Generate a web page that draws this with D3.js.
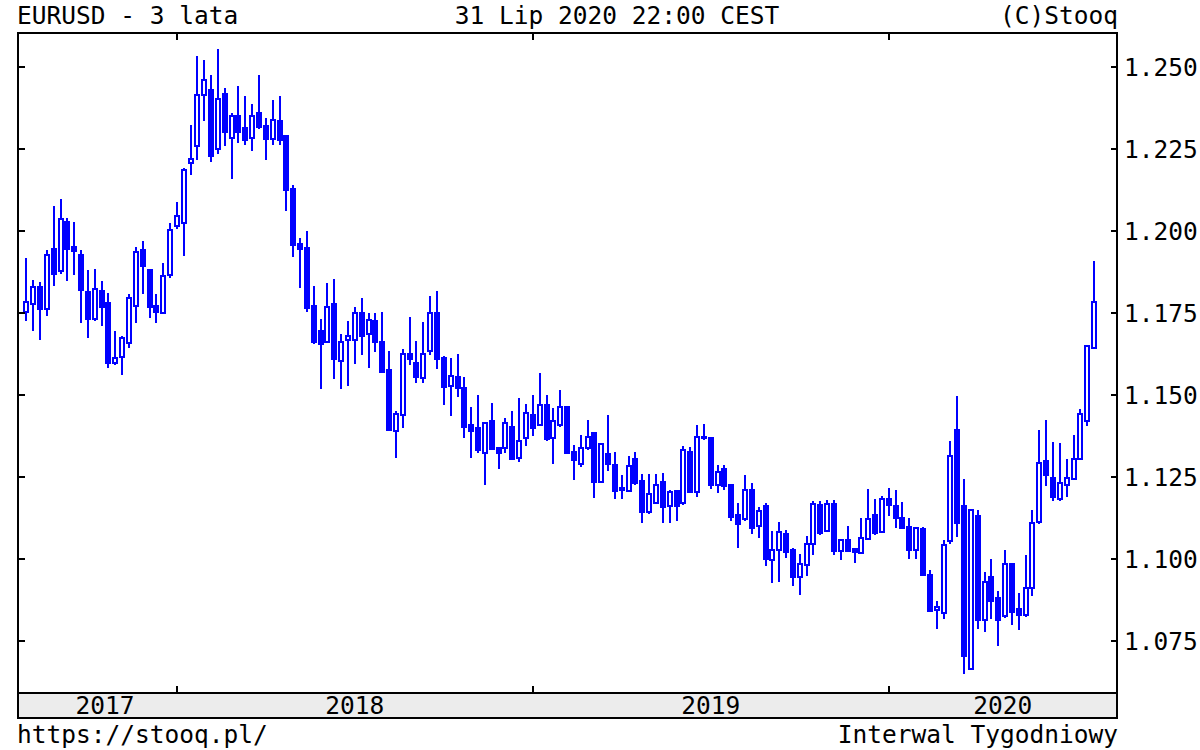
<!DOCTYPE html>
<html>
<head>
<meta charset="utf-8">
<script src="https://cdn.jsdelivr.net/npm/d3@7"></script>
<style>
  html, body { margin: 0; padding: 0; background: #fff; }
  svg { display: block; }
  text { font-family: "DejaVu Sans Mono", monospace; font-size: 24.5px; fill: #000; }
</style>
</head>
<body>
<svg id="chart" width="1200" height="750"></svg>
<script>
// ---- data (weekly EURUSD candles, week starting 2017-07-31) ----
const startWeek = "2017-07-31";
const opens = [
1.1753,1.1776,1.1829,1.1760,1.1945,1.1877,1.2028,1.1951,1.1925,1.1812,
1.1732,1.1817,1.1781,1.1596,1.1616,1.1657,1.1771,1.1942,1.1879,1.1771,
1.1750,1.1865,1.2015,1.2025,1.2206,1.2257,1.2415,1.2430,1.2249,1.2418,
1.2283,1.2351,1.2313,1.2283,1.2359,1.2318,1.2279,1.2333,1.2290,1.2127,
1.1960,1.1947,1.1769,1.1693,1.1662,1.1777,1.1602,1.1667,1.1667,1.1748,
1.1684,1.1725,1.1660,1.1574,1.1388,1.1438,1.1625,1.1598,1.1551,1.1632,
1.1749,1.1612,1.1525,1.1553,1.1520,1.1408,1.1398,1.1323,1.1421,1.1337,
1.1337,1.1403,1.1308,1.1368,1.1439,1.1409,1.1470,1.1367,1.1409,1.1462,
1.1324,1.1288,1.1337,1.1383,1.1235,1.1320,1.1286,1.1210,1.1205,1.1305,
1.1237,1.1142,1.1171,1.1234,1.1160,1.1206,1.1169,1.1326,1.1204,1.1372,
1.1367,1.1225,1.1274,1.1225,1.1134,1.1120,1.1208,1.1100,1.1160,1.0997,
1.1025,1.1075,1.1027,1.0943,1.0980,1.1044,1.1163,1.1085,1.1167,1.1023,
1.1056,1.1031,1.1017,1.1060,1.1134,1.1080,1.1181,1.1160,1.1124,1.1096,
1.1028,1.1090,1.0951,1.0843,1.0833,1.1053,1.1391,1.1161,1.0663,1.1129,
1.0813,1.0943,1.0879,1.0826,1.0985,1.0846,1.0827,1.0912,1.1111,1.1299,
1.1245,1.1183,1.1224,1.1244,1.1303,1.1419,1.1642
];
const highs = [
1.1917,1.1850,1.1843,1.1942,1.2074,1.2097,1.2038,1.2028,1.1942,1.1881,
1.1884,1.1846,1.1809,1.1693,1.1678,1.1807,1.1951,1.1969,1.1884,1.1807,
1.1901,1.2025,1.2089,1.2190,1.2323,1.2534,1.2519,1.2476,1.2554,1.2435,
1.2360,1.2442,1.2410,1.2387,1.2476,1.2343,1.2397,1.2410,1.2293,1.2140,
1.1977,1.1998,1.1830,1.1731,1.1840,1.1852,1.1684,1.1724,1.1768,1.1794,
1.1748,1.1748,1.1751,1.1632,1.1449,1.1639,1.1737,1.1665,1.1723,1.1802,
1.1815,1.1617,1.1612,1.1625,1.1553,1.1462,1.1500,1.1418,1.1474,1.1340,
1.1428,1.1449,1.1489,1.1471,1.1498,1.1565,1.1498,1.1459,1.1515,1.1464,
1.1347,1.1378,1.1424,1.1383,1.1349,1.1439,1.1325,1.1255,1.1312,1.1324,
1.1257,1.1259,1.1259,1.1261,1.1210,1.1210,1.1345,1.1341,1.1408,1.1411,
1.1370,1.1286,1.1286,1.1227,1.1170,1.1255,1.1232,1.1159,1.1170,1.1085,
1.1113,1.1087,1.1032,1.1013,1.1069,1.1177,1.1177,1.1180,1.1180,1.1059,
1.1101,1.1033,1.1124,1.1211,1.1182,1.1192,1.1215,1.1208,1.1172,1.1124,
1.1097,1.1098,1.0966,1.0870,1.1057,1.1358,1.1497,1.1242,1.1147,1.1147,
1.0958,1.0998,1.0900,1.1025,1.0988,1.0895,1.1012,1.1150,1.1391,1.1424,
1.1357,1.1352,1.1303,1.1378,1.1456,1.1653,1.1907
];
const lows = [
1.1726,1.1693,1.1668,1.1740,1.1832,1.1868,1.1846,1.1866,1.1719,1.1673,
1.1726,1.1709,1.1580,1.1591,1.1560,1.1642,1.1719,1.1807,1.1735,1.1719,
1.1750,1.1855,1.2005,1.1922,1.2171,1.2216,1.2333,1.2208,1.2235,1.2259,
1.2158,1.2267,1.2262,1.2242,1.2310,1.2216,1.2262,1.2262,1.2059,1.1920,
1.1825,1.1751,1.1656,1.1517,1.1660,1.1548,1.1517,1.1527,1.1594,1.1621,
1.1580,1.1629,1.1565,1.1388,1.1307,1.1397,1.1591,1.1537,1.1536,1.1622,
1.1577,1.1469,1.1436,1.1493,1.1368,1.1306,1.1322,1.1225,1.1332,1.1275,
1.1321,1.1303,1.1295,1.1345,1.1373,1.1404,1.1358,1.1289,1.1403,1.1322,
1.1240,1.1281,1.1332,1.1184,1.1230,1.1268,1.1183,1.1182,1.1203,1.1226,
1.1110,1.1137,1.1166,1.1110,1.1110,1.1114,1.1164,1.1200,1.1187,1.1362,
1.1212,1.1199,1.1210,1.1114,1.1034,1.1114,1.1074,1.1062,1.0977,1.0926,
1.0930,1.1002,1.0916,1.0890,1.0946,1.1012,1.1073,1.1085,1.1012,1.0995,
1.1023,1.0988,1.1014,1.1058,1.1073,1.1080,1.1131,1.1093,1.1093,1.0999,
1.0999,1.0951,1.0840,1.0785,1.0817,1.1046,1.1067,1.0649,1.0663,1.0785,
1.0777,1.0816,1.0735,1.0818,1.0797,1.0783,1.0822,1.0885,1.1106,1.1222,
1.1176,1.1176,1.1189,1.1242,1.1303,1.1406,1.1640
];
const closes = [
1.1784,1.1829,1.1760,1.1927,1.1868,1.2035,1.1945,1.1938,1.1819,1.1732,
1.1822,1.1767,1.1596,1.1611,1.1673,1.1796,1.1935,1.1891,1.1767,1.1753,
1.1863,1.2003,1.2044,1.2186,1.2219,1.2415,1.2460,1.2229,1.2401,1.2300,
1.2351,1.2300,1.2277,1.2349,1.2316,1.2279,1.2336,1.2277,1.2125,1.1955,
1.1944,1.1764,1.1660,1.1656,1.1767,1.1608,1.1661,1.1678,1.1748,1.1679,
1.1728,1.1660,1.1568,1.1393,1.1442,1.1625,1.1608,1.1555,1.1625,1.1749,
1.1609,1.1523,1.1557,1.1520,1.1403,1.1388,1.1332,1.1415,1.1334,1.1323,
1.1415,1.1303,1.1359,1.1443,1.1400,1.1470,1.1365,1.1421,1.1462,1.1322,
1.1301,1.1337,1.1370,1.1235,1.1349,1.1289,1.1205,1.1216,1.1283,1.1230,
1.1143,1.1198,1.1226,1.1157,1.1204,1.1160,1.1331,1.1204,1.1372,1.1367,
1.1225,1.1263,1.1223,1.1126,1.1106,1.1208,1.1095,1.1146,1.1000,1.1027,
1.1080,1.1019,1.0943,1.0983,1.1044,1.1167,1.1078,1.1167,1.1023,1.1056,
1.1023,1.1021,1.1063,1.1121,1.1078,1.1181,1.1164,1.1124,1.1093,1.1027,
1.1094,1.0951,1.0840,1.0854,1.1043,1.1312,1.1108,1.0702,1.1147,1.0813,
1.0930,1.0872,1.0813,1.0985,1.0838,1.0827,1.0912,1.1109,1.1293,1.1256,
1.1188,1.1232,1.1245,1.1303,1.1442,1.1647,1.1782
];
const yTicks = [1.075, 1.100, 1.125, 1.150, 1.175, 1.200, 1.225, 1.250];
const titleLeft = "EURUSD - 3 lata";
const titleCenter = "31 Lip 2020 22:00 CEST";
const titleRight = "(C)Stooq";
const footLeft = "https://stooq.pl/";
const footRight = "Interwal Tygodniowy";

// ---- build ----
const n = closes.length;
const start = new Date(startWeek + "T00:00:00Z");
const weeks = d3.range(n).map(i => {
  const monday = new Date(start.getTime() + i * 7 * 864e5);
  const friday = new Date(monday.getTime() + 4 * 864e5);
  return { i, friday, o: opens[i], h: highs[i], l: lows[i], c: closes[i] };
});

const svg = d3.select("#chart");
const L = 18, R = 1117, T = 33, B = 693, bandB = 718;
const blue = "#0000ff";

const x = d3.scaleLinear().domain([0, n - 1]).range([26.3, 1094.1]);
const y = d3.scaleLinear().domain([1.075, 1.25]).range([640.7, 66.7]);

const boundaries = [];
weeks.forEach((w, k) => {
  if (k > 0 && w.friday.getUTCFullYear() !== weeks[k - 1].friday.getUTCFullYear()) boundaries.push(k);
});

// band
svg.append("rect").attr("x", L).attr("y", B).attr("width", R - L).attr("height", bandB - B)
  .attr("fill", "#ececec").attr("stroke", "#000").attr("stroke-width", 2);

// candles
const g = svg.append("g").attr("shape-rendering", "crispEdges");
weeks.forEach(w => {
  const cx = Math.round(x(w.i));
  g.append("line").attr("x1", cx).attr("x2", cx)
    .attr("y1", Math.round(y(w.h))).attr("y2", Math.round(y(w.l)))
    .attr("stroke", blue).attr("stroke-width", 2);
  const top = Math.round(y(Math.max(w.o, w.c))), bot = Math.round(y(Math.min(w.o, w.c)));
  const up = w.c >= w.o;
  g.append("rect").attr("x", cx - 2).attr("y", top)
    .attr("width", 4).attr("height", Math.max(1, bot - top))
    .attr("fill", up ? "#fff" : blue).attr("stroke", blue).attr("stroke-width", 2);
});

// frame
svg.append("rect").attr("x", L).attr("y", T).attr("width", R - L).attr("height", B - T)
  .attr("fill", "none").attr("stroke", "#000").attr("stroke-width", 2);

// y ticks and labels
yTicks.forEach(v => {
  const yy = Math.round(y(v));
  svg.append("line").attr("x1", L).attr("x2", L + 7).attr("y1", yy).attr("y2", yy)
    .attr("stroke", "#000").attr("stroke-width", 2);
  svg.append("line").attr("x1", R - 6).attr("x2", R).attr("y1", yy).attr("y2", yy)
    .attr("stroke", "#000").attr("stroke-width", 2);
  svg.append("text").attr("x", 1124).attr("y", yy + 8.5).text(d3.format(".3f")(v));
});

// year boundary ticks
boundaries.forEach(k => {
  const bx = Math.round(x(k));
  svg.append("line").attr("x1", bx).attr("x2", bx).attr("y1", T).attr("y2", T + 7)
    .attr("stroke", "#000").attr("stroke-width", 2);
  svg.append("line").attr("x1", bx).attr("x2", bx).attr("y1", B - 7).attr("y2", B)
    .attr("stroke", "#000").attr("stroke-width", 2);
});

// year labels
const segs = [1].concat(boundaries);
const segEnds = boundaries.map(k => x(k)).concat([R]);
segs.forEach((k, j) => {
  const yr = weeks[k].friday.getUTCFullYear();
  const cx = (x(k) + segEnds[j]) / 2;
  svg.append("text").attr("x", cx).attr("y", 714).attr("text-anchor", "middle").text(yr);
});

// header and footer
svg.append("text").attr("x", 17).attr("y", 23.5).text(titleLeft);
svg.append("text").attr("x", 617).attr("y", 23.5).attr("text-anchor", "middle").text(titleCenter);
svg.append("text").attr("x", 1118).attr("y", 23.5).attr("text-anchor", "end").text(titleRight);
svg.append("text").attr("x", 17).attr("y", 743).text(footLeft);
svg.append("text").attr("x", 1118).attr("y", 743).attr("text-anchor", "end").text(footRight);
</script>
</body>
</html>
